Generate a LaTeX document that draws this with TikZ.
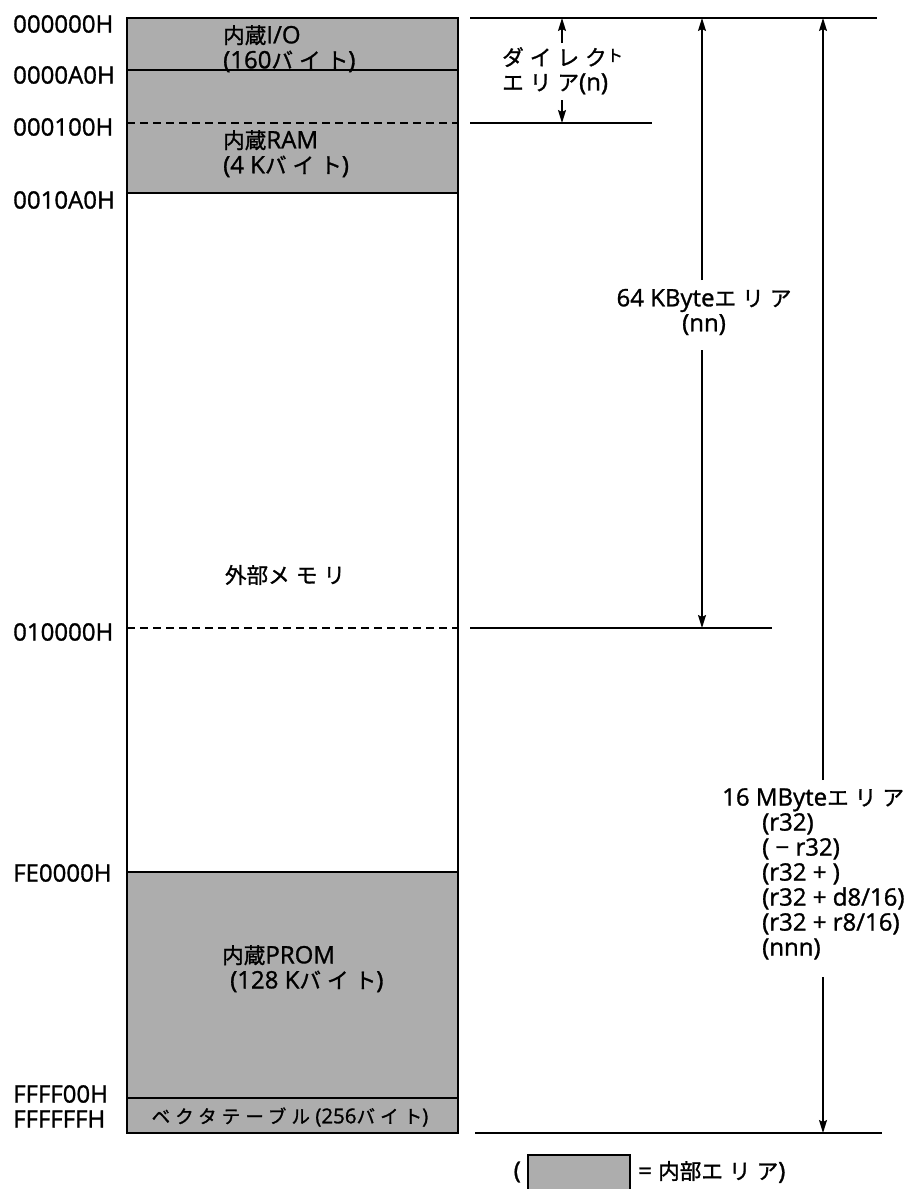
\documentclass[tikz,border=0pt]{standalone}
\usepackage{fontspec}
\setmainfont{Open Sans}[FakeBold=1.2]
\newfontfamily\jpfont[Scale=0.9,FakeBold=1.2]{Noto Sans CJK JP}
\newfontfamily\knfont[Scale=0.9,LetterSpace=28,FakeBold=1.2]{Noto Sans CJK JP}
\newcommand\JP[1]{{\jpfont #1}}
\newcommand\KN[1]{{\knfont #1}}
\usetikzlibrary{arrows.meta}
\begin{document}
\begin{tikzpicture}[x=1pt,y=-1pt,
  lab/.style={font=\fontsize{24}{25}\selectfont, inner sep=0pt},
  sm/.style={font=\fontsize{20.5}{22}\selectfont, inner sep=0pt},
  ln/.style={line width=1.6pt},
  dsh/.style={line width=1.4pt, dash pattern=on 8pt off 5pt},
  arr/.style={line width=1.4pt, -{Stealth[length=13pt,width=8pt,inset=2pt]}},
  shade/.style={fill=black!32}]

\fill[white] (0,0) rectangle (917,1189);
\useasboundingbox (0,0) rectangle (917,1189);

% memory map
\fill[shade] (127,18) rectangle (458,193);
\fill[shade] (127,872) rectangle (458,1133);
\draw[ln] (127,70) -- (458,70);
\draw[dsh] (127,123) -- (458,123);
\draw[ln] (127,193) -- (458,193);
\draw[dsh] (127,628) -- (458,628);
\draw[ln] (127,872) -- (458,872);
\draw[ln] (127,1098) -- (458,1098);
\draw[ln] (127,18) rectangle (458,1133);

% address labels
\node[lab, anchor=west] (a0) at (13,24) {000000H};
\node[lab, anchor=west] (a1) at (13,75) {0000A0H};
\node[lab, anchor=west] (a2) at (13,127) {000100H};
\node[lab, anchor=west] (a3) at (13,200) {0010A0H};
\node[lab, anchor=west] (a4) at (13,632) {010000H};
\node[lab, anchor=west] (a5) at (13,873) {FE0000H};
\node[lab, anchor=west] (a6) at (13,1094) {FFFF00H};
\node[lab, anchor=west] (a7) at (13,1119) {FFFFFFH};

% region texts
\node[lab, anchor=north west, align=left] (io) at (223,25) {\JP{内蔵}I/O\\(160\KN{バイト})};
\node[lab, anchor=north west, align=left] (ram) at (223,130) {\JP{内蔵}RAM\\(4 K\KN{バイト})};
\node[lab] (ext) at (285,575) {\JP{外部}\KN{メモリ}};
\node[lab, anchor=north west, align=left] (prom) at (222,945) {\JP{内蔵}PROM\\\hspace*{8pt}(128 K\KN{バイト})};
\node[sm] (vec) at (290,1117) {\KN{ベクタテーブル} (256\KN{バイト})};

% right side reference lines
\coordinate (tl) at (470,18);  \coordinate (tr) at (877,18);
\coordinate (dl) at (470,123); \coordinate (dr) at (652,123);
\coordinate (kl) at (470,628); \coordinate (kr) at (772,628);
\coordinate (bl) at (475,1133); \coordinate (br) at (882,1133);
\draw[ln] (tl) -- (tr);
\draw[ln] (dl) -- (dr);
\draw[ln] (kl) -- (kr);
\draw[ln] (bl) -- (br);

% direct area
\node[lab, anchor=north west, align=left] (dir) at (502,47)
  {\KN{ダイレク}{\fontsize{18}{18}\selectfont\raisebox{4pt}{\KN{ト}}}\\\KN{エリア}(n)};
\coordinate (d0) at (562,18);  \coordinate (d1) at (562,43);
\coordinate (d2) at (562,100); \coordinate (d3) at (562,123);
\draw[arr] (d1) -- (d0);
\draw[arr] (d2) -- (d3);

% 64 KByte area
\node[lab, align=center] (k64) at (704,312) {64 KByte\KN{エリア}\\(nn)};
\coordinate (k0) at (702,18);  \coordinate (k1) at (702,280);
\coordinate (k2) at (702,350); \coordinate (k3) at (702,628);
\draw[arr] (k1) -- (k0);
\draw[arr] (k2) -- (k3);

% 16 MByte area
\node[lab, anchor=north west, align=left] (m16) at (722,788)
  {16 MByte\KN{エリア}\\
   \hspace*{40pt}(r32)\\
   \hspace*{40pt}( − r32)\\
   \hspace*{40pt}(r32 + )\\
   \hspace*{40pt}(r32 + d8/16)\\
   \hspace*{40pt}(r32 + r8/16)\\
   \hspace*{40pt}(nnn)};
\coordinate (m0) at (823,18);  \coordinate (m1) at (823,780);
\coordinate (m2) at (823,977); \coordinate (m3) at (823,1133);
\draw[arr] (m1) -- (m0);
\draw[arr] (m2) -- (m3);

% legend
\node[lab, anchor=east] (lp) at (521,1172) {(};
\draw[shade, line width=1.4pt] (528,1155) rectangle (630,1192);
\node[lab, anchor=west] (lt) at (638,1172) {= \JP{内部}\KN{エリア})};
\end{tikzpicture}
\end{document}
